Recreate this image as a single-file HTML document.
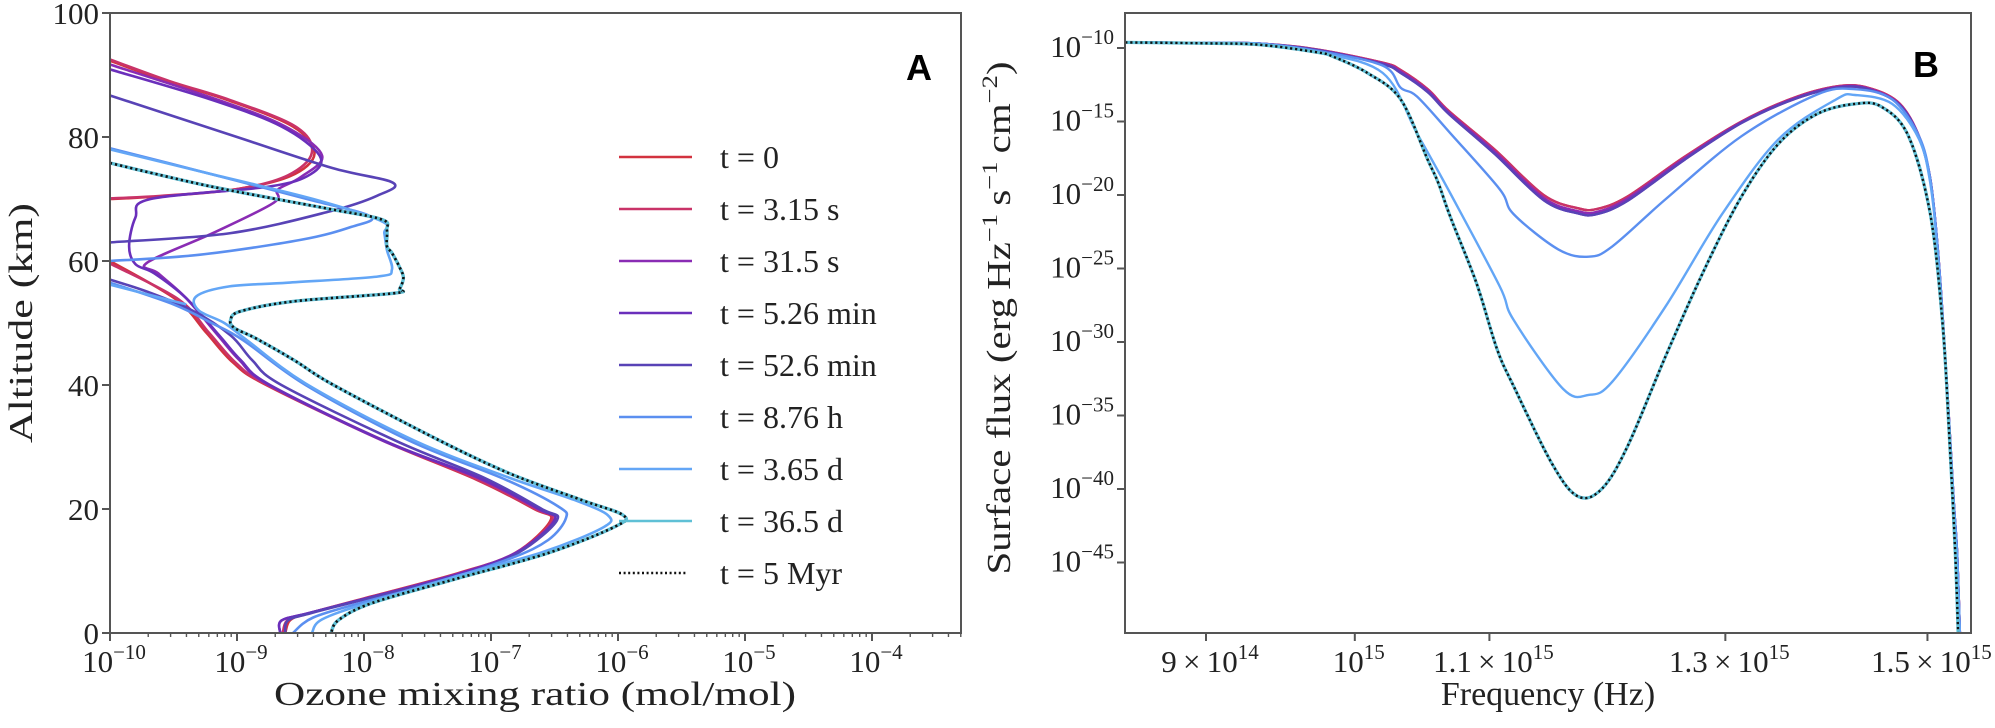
<!DOCTYPE html>
<html><head><meta charset="utf-8"><style>
html,body{margin:0;padding:0;background:#fff;}
svg{display:block;}
text{font-family:"Liberation Serif","DejaVu Serif",serif;fill:#222;}
</style></head><body>
<svg id="fig" width="1995" height="728" viewBox="0 0 1995 728" xmlns="http://www.w3.org/2000/svg">
<defs>
<clipPath id="clipA"><rect x="110" y="13" width="851" height="620"/></clipPath>
<clipPath id="clipB"><rect x="1125" y="13" width="846" height="620"/></clipPath>
</defs>
<g id="panelA"></g>
<g id="panelB"></g>
</svg>
<script>
// ---------- Panel A data: altitude (km) and log10 ozone mixing ratio; null separates segments ----------
const seriesLabels = ["t = 0","t = 3.15 s","t = 31.5 s","t = 5.26 min","t = 52.6 min","t = 8.76 h","t = 3.65 d","t = 36.5 d","t = 5 Myr"];
const seriesColors = ["#d2323f","#c93368","#8a2cb4","#6a2fbb","#5843b6","#5b8ff0","#63a6f6","#5fc0d6","#111"];

const altT0 = [92.3,89,86,81.7,77.3,73.7,71.5,70.4,70,null,60,53.8,48.4,43.6,40,31.1,24.7,20,18.2,12.9,9.65,5.9,3.2,2.1,0];
const logT0 = [-10,-9.55,-9.08,-8.56,-8.39,-8.58,-9.03,-9.63,-10,null,-10,-9.48,-9.24,-9.03,-8.77,-7.86,-7.11,-6.66,-6.53,-6.81,-7.26,-7.94,-8.43,-8.58,-8.62];
const altT1 = [92.5,89,86,81.7,77.5,73.8,71.6,70.5,70.1,null,59.6,53.8,48.4,43.6,40,31.1,24.7,20,18.2,12.9,9.65,5.9,3.2,2.1,0];
const logT1 = [-10,-9.53,-9.06,-8.54,-8.41,-8.6,-9.0,-9.6,-10,null,-10,-9.46,-9.22,-9.01,-8.76,-7.85,-7.1,-6.65,-6.52,-6.8,-7.25,-7.93,-8.43,-8.6,-8.64];
const altT2 = [91.7,86,81.7,77,73.5,71.5,69.4,64.5,59.7,58,54,48,44,40,31,25,20,18.2,13,9.6,5.9,3.2,2,0];
const logT2 = [-10,-9.15,-8.62,-8.33,-8.5,-8.68,-8.71,-9.19,-9.71,-9.62,-9.4,-9.15,-8.98,-8.75,-7.85,-7.1,-6.63,-6.5,-6.8,-7.25,-7.92,-8.44,-8.65,-8.66];
const altT3 = [90.9,86,81.7,77,74,72,70,67,62.4,59.5,58,54,48,44,40,31,25,20,18.2,13,9.6,5.9,3.2,2,0];
const logT3 = [-10,-9.2,-8.65,-8.35,-8.42,-8.75,-9.68,-9.8,-9.85,-9.8,-9.65,-9.4,-9.14,-8.97,-8.74,-7.84,-7.09,-6.62,-6.5,-6.79,-7.24,-7.92,-8.44,-8.65,-8.66];
const altT4 = [86.7,80,75,72.6,70.5,68,64.5,63,null,57,55,52,48,44,40,31,25,20,18.2,13,9.6,5.9,3.2,2,0];
const logT4 = [-10,-9.0,-8.25,-7.77,-7.9,-8.27,-9.05,-10,null,-10,-9.7,-9.35,-9.05,-8.88,-8.65,-7.75,-7.05,-6.6,-6.48,-6.78,-7.2,-7.9,-8.42,-8.6,-8.62];
const altT5 = [78.2,74,70,67.2,65.5,63.4,61,60,null,56.5,53,50,47.2,40,31,24.7,20.4,18.5,15,12,8,5,2.5,0];
const logT5 = [-10,-9.2,-8.45,-7.95,-8.1,-8.5,-9.3,-10,null,-10,-9.5,-9.2,-8.95,-8.46,-7.64,-6.88,-6.47,-6.41,-6.55,-6.85,-7.45,-8.0,-8.4,-8.56];
const altT6 = [78,74,70,66.4,64.5,61.8,58.6,57.5,56.5,55.9,54.3,52,50,47.2,40,31,25,21.5,19,17,13,9,5,2.2,0,null,56.2,53];
const logT6 = [-10,-9.2,-8.4,-7.86,-7.84,-7.82,-7.78,-7.89,-8.6,-9.06,-9.32,-9.3,-9.1,-8.92,-8.44,-7.6,-6.85,-6.35,-6.08,-6.12,-6.6,-7.3,-7.95,-8.33,-8.41,null,-10,-9.4];
const altT7 = [75.8,72,68.5,66.7,65,62.4,61.3,59,57.3,55.5,54.8,53.5,51.9,50.5,49.2,47.5,44,40,31.1,25.7,21.4,19,17.2,12.9,8.6,4.8,2.1,0];
const logT7 = [-10,-9.2,-8.3,-7.86,-7.82,-7.82,-7.78,-7.72,-7.69,-7.72,-7.76,-8.55,-8.97,-9.05,-9.02,-8.85,-8.55,-8.24,-7.41,-6.85,-6.28,-5.96,-6.02,-6.55,-7.3,-7.94,-8.2,-8.26];
const altT8 = altT7;
const logT8 = logT7;
const altSeries = [altT0,altT1,altT2,altT3,altT4,altT5,altT6,altT7,altT8];
const logSeries = [logT0,logT1,logT2,logT3,logT4,logT5,logT6,logT7,logT8];

const altTicks = [0,20,40,60,80,100];
const ozoneTickExps = [-10,-9,-8,-7,-6,-5,-4];

// ---------- Panel B data: frequency (1e15 Hz) and log10 surface flux ----------
const freqPurple = [0.85,0.90,0.935,0.974,1.020,1.033,1.053,1.069,1.104,1.143,1.171,1.187,1.213,1.263,1.315,1.368,1.413,1.443,1.471,1.491,1.503,1.511,1.519,1.528,1.532,1.536];
const fluxPurple = [-9.62,-9.65,-9.7,-10.1,-11.0,-11.5,-12.8,-14.3,-16.9,-20.0,-20.9,-20.95,-20.1,-17.4,-15.0,-13.3,-12.56,-12.8,-13.8,-16.0,-18.9,-23.7,-31,-40.7,-44.6,-52];
const freq526 = freqPurple;
const flux526 = [-9.62,-9.65,-9.7,-10.12,-11.05,-11.6,-12.9,-14.4,-17.05,-20.2,-21.1,-21.15,-20.25,-17.5,-15.05,-13.35,-12.6,-12.85,-13.85,-16.0,-18.9,-23.7,-31,-40.7,-44.6,-52];
const freq526b = freqPurple;
const flux526b = [-9.62,-9.65,-9.7,-10.14,-11.1,-11.7,-13.0,-14.5,-17.2,-20.35,-21.25,-21.3,-20.4,-17.6,-15.1,-13.4,-12.65,-12.9,-13.9,-16.05,-18.95,-23.7,-31,-40.7,-44.6,-52];
const freq876 = [0.85,0.90,0.935,0.974,1.020,1.033,1.045,1.070,1.108,1.119,1.155,1.180,1.200,1.246,1.315,1.387,1.425,1.463,1.491,1.503,1.511,1.519,1.528,1.532,1.536];
const flux876 = [-9.62,-9.65,-9.7,-10.2,-11.2,-12.7,-13.3,-15.8,-19.6,-21.3,-23.7,-24.2,-23.5,-20.3,-16.0,-13.17,-12.8,-13.5,-16.0,-18.9,-23.7,-31,-40.7,-44.6,-52];
const freq365 = [0.85,0.90,0.935,0.974,1.020,1.045,1.070,1.108,1.119,1.159,1.180,1.200,1.246,1.297,1.350,1.406,1.425,1.463,1.491,1.503,1.511,1.519,1.528,1.532,1.536];
const flux365 = [-9.62,-9.65,-9.72,-10.3,-11.7,-15.8,-19.9,-26.2,-28.5,-33.2,-33.6,-32.7,-27.6,-21.3,-16.2,-13.5,-13.2,-13.8,-16.2,-19.2,-24,-31.5,-41,-45,-52];
const freqMyr = [0.85,0.90,0.935,0.974,0.985,1.009,1.033,1.053,1.061,1.070,1.090,1.106,1.119,1.150,1.171,1.191,1.213,1.246,1.280,1.315,1.350,1.387,1.425,1.452,1.480,1.503,1.516,1.523,1.530,1.534];
const fluxMyr = [-9.62,-9.68,-9.78,-10.3,-10.6,-11.7,-13.5,-17.6,-19.2,-21.5,-26,-30.5,-33,-38.3,-40.5,-40,-37.1,-31,-25.2,-20.1,-16.5,-14.5,-13.8,-14,-16,-21.3,-28.6,-35.9,-44.6,-52];
const freqSeriesB = [freqPurple,freqPurple,freq526,freq526b,freq526b,freq876,freq365,freqMyr,freqMyr];
const fluxSeriesB = [fluxPurple,fluxPurple,flux526,flux526b,flux526b,flux876,flux365,fluxMyr,fluxMyr];

const fluxTickExps = [-10,-15,-20,-25,-30,-35,-40,-45];
const freqTicks = [0.9,1.0,1.1,1.3,1.5];
const freqTickLabels = [["9","14"],["","15"],["1.1","15"],["1.3","15"],["1.5","15"]];

// ---------- scales ----------
const A = {l:110,r:961,t:13,b:633,xmin:-10,xmax:-10+851/127,ymin:0,ymax:100};
function xA(lv){return A.l+(lv-A.xmin)*127;}
function yA(a){return A.b-(a-A.ymin)*(A.b-A.t)/(A.ymax-A.ymin);}
const B = {l:1125,r:1971,t:13,b:633};
function xB(f){return 1206+3252*Math.log10(f/0.9);}
function yB(L){return 48+14.7*(-10-L);}

const NS="http://www.w3.org/2000/svg";
function mk(tag,parent,attrs){const e=document.createElementNS(NS,tag);for(const k in attrs)e.setAttribute(k,attrs[k]);parent.appendChild(e);return e;}

function smoothPath(pts){
  if(pts.length<2)return "";
  let d="M"+pts[0][0].toFixed(1)+","+pts[0][1].toFixed(1);
  for(let i=0;i<pts.length-1;i++){
    const p0=pts[Math.max(0,i-1)],p1=pts[i],p2=pts[i+1],p3=pts[Math.min(pts.length-1,i+2)];
    const c1=[p1[0]+(p2[0]-p0[0])/6,p1[1]+(p2[1]-p0[1])/6];
    const c2=[p2[0]-(p3[0]-p1[0])/6,p2[1]-(p3[1]-p1[1])/6];
    d+="C"+c1[0].toFixed(1)+","+c1[1].toFixed(1)+" "+c2[0].toFixed(1)+","+c2[1].toFixed(1)+" "+p2[0].toFixed(1)+","+p2[1].toFixed(1);
  }
  return d;
}
function segPath(xs,ys,fx,fy){
  let d="",cur=[];
  for(let i=0;i<xs.length;i++){
    if(xs[i]===null||ys[i]===null){d+=smoothPath(cur);cur=[];continue;}
    cur.push([fx(xs[i]),fy(ys[i])]);
  }
  d+=smoothPath(cur);
  return d;
}
function powLabel(parent,x,y,base,exp,anchor,name){
  const t=mk("text",parent,{x:x,y:y,"text-anchor":anchor,"font-size":"31"});
  
  
  const b=mk("tspan",t,{});b.textContent=base;
  const s=mk("tspan",t,{"font-size":"21",dy:"-13"});s.textContent=exp;
  return t;
}

// ---------- Panel A ----------
const gA=document.getElementById("panelA");
const curvesA=mk("g",gA,{"clip-path":"url(#clipA)"});


for(let s=0;s<9;s++){
  const d=segPath(logSeries[s],altSeries[s],xA,yA);
  if(s===8){
    const p=mk("path",curvesA,{d:d,fill:"none",stroke:"#111","stroke-width":"2.6","stroke-dasharray":"2.2 3","stroke-linecap":"butt"});
    
    
  } else {
    const p=mk("path",curvesA,{d:d,fill:"none",stroke:seriesColors[s],"stroke-width":s===7?"3.4":"2.6","stroke-linejoin":"round"});
    
    
  }
}
// axes frame
const frameA=mk("rect",gA,{x:A.l,y:A.t,width:A.r-A.l,height:A.b-A.t,fill:"none",stroke:"#555","stroke-width":"2"});


// y ticks
altTicks.forEach(v=>{
  const y=yA(v);
  const tk=mk("line",gA,{x1:A.l-8,x2:A.l,y1:y,y2:y,stroke:"#555","stroke-width":"2"});
  
  
  const lb=mk("text",gA,{x:A.l-11,y:y+11,"text-anchor":"end","font-size":"31"});
  
  
  lb.textContent=v;
});
// x ticks (major + minor)
for(let e=-10;e<=-4;e++){
  for(let m=1;m<=9;m++){
    const lv=e+Math.log10(m);
    if(lv>A.xmax)break;
    const x=xA(lv);
    const tk=mk("line",gA,{x1:x,x2:x,y1:A.b,y2:A.b+(m===1?8:4),stroke:"#555","stroke-width":m===1?"2":"1.4"});
    
    
  }
}
ozoneTickExps.forEach(e=>{powLabel(gA,xA(e)+4,672,"10","\u2212"+(-e),"middle","ozone-tick-label");});
const xtA=mk("text",gA,{x:535,y:705,"text-anchor":"middle","font-size":"34",textLength:"522",lengthAdjust:"spacingAndGlyphs"});


xtA.textContent="Ozone mixing ratio (mol/mol)";
const ytA=mk("text",gA,{x:0,y:0,"text-anchor":"middle","font-size":"34",transform:"translate(32,323) rotate(-90)",textLength:"240",lengthAdjust:"spacingAndGlyphs"});


ytA.textContent="Altitude (km)";
const labA=mk("text",gA,{x:932,y:80,"text-anchor":"end","font-size":"36","font-weight":"bold",style:"font-family:'Liberation Sans',sans-serif;fill:#000"});


labA.textContent="A";
// legend
const leg=mk("g",gA,{});


seriesLabels.forEach((lab,i)=>{
  const y=157+52*i;
  const row=mk("g",leg,{});
  
  
  if(i===8){
    mk("line",row,{x1:619,x2:688,y1:y,y2:y,stroke:"#111","stroke-width":"2.4","stroke-dasharray":"2 2.6"});
  } else {
    mk("line",row,{x1:619,x2:692,y1:y,y2:y,stroke:seriesColors[i],"stroke-width":"2.6"});
  }
  const t=mk("text",row,{x:720,y:y+11,"font-size":"32"});
  t.textContent=lab;
});

// ---------- Panel B ----------
const gB=document.getElementById("panelB");
const curvesB=mk("g",gB,{"clip-path":"url(#clipB)"});


for(let s=0;s<9;s++){
  const d=segPath(freqSeriesB[s],fluxSeriesB[s],xB,yB);
  if(s===8){
    const p=mk("path",curvesB,{d:d,fill:"none",stroke:"#111","stroke-width":"2.4","stroke-dasharray":"2.2 2.8"});
    
    
  } else {
    const p=mk("path",curvesB,{d:d,fill:"none",stroke:seriesColors[s],"stroke-width":s===7?"3.2":"2.4","stroke-linejoin":"round"});
    
    
  }
}
const frameB=mk("rect",gB,{x:B.l,y:B.t,width:B.r-B.l,height:B.b-B.t,fill:"none",stroke:"#555","stroke-width":"2"});


fluxTickExps.forEach(e=>{
  const y=yB(e);
  const tk=mk("line",gB,{x1:B.l-8,x2:B.l,y1:y,y2:y,stroke:"#555","stroke-width":"2"});
  
  
  powLabel(gB,B.l-11,y+9,"10","\u2212"+(-e),"end","flux-tick-label");
});
freqTicks.forEach((f,i)=>{
  const x=xB(f);
  const tk=mk("line",gB,{x1:x,x2:x,y1:B.b,y2:B.b+8,stroke:"#555","stroke-width":"2"});
  
  
  const lb=freqTickLabels[i];
  const t=mk("text",gB,{x:x+4,y:672,"text-anchor":"middle","font-size":"31"});
  
  
  const b=mk("tspan",t,{});b.textContent=(lb[0]?lb[0]+"\u2009\u00d7\u200910":"10");
  const s=mk("tspan",t,{"font-size":"21",dy:"-13"});s.textContent=lb[1];
});
const xtB=mk("text",gB,{x:1548,y:705,"text-anchor":"middle","font-size":"34"});


xtB.textContent="Frequency (Hz)";
const ytB=mk("text",gB,{x:0,y:0,"text-anchor":"middle","font-size":"34",transform:"translate(1010,318) rotate(-90)",textLength:"513",lengthAdjust:"spacingAndGlyphs"});


(function(){
  const parts=[["Surface flux (erg\u2009Hz",0],["\u22121",1],["\u2009s",0],["\u22121",1],["\u2009cm",0],["\u22122",1],[")",0]];
  let up=false;
  parts.forEach(p=>{
    const ts=mk("tspan",ytB,{});
    if(p[1]){ts.setAttribute("font-size","22");ts.setAttribute("dy",up?"0":"-13");up=true;}
    else {ts.setAttribute("dy",up?"13":"0");up=false;}
    ts.textContent=p[0];
  });
})();
const labB=mk("text",gB,{x:1939,y:77,"text-anchor":"end","font-size":"36","font-weight":"bold",style:"font-family:'Liberation Sans',sans-serif;fill:#000"});


labB.textContent="B";
</script>
</body></html>
